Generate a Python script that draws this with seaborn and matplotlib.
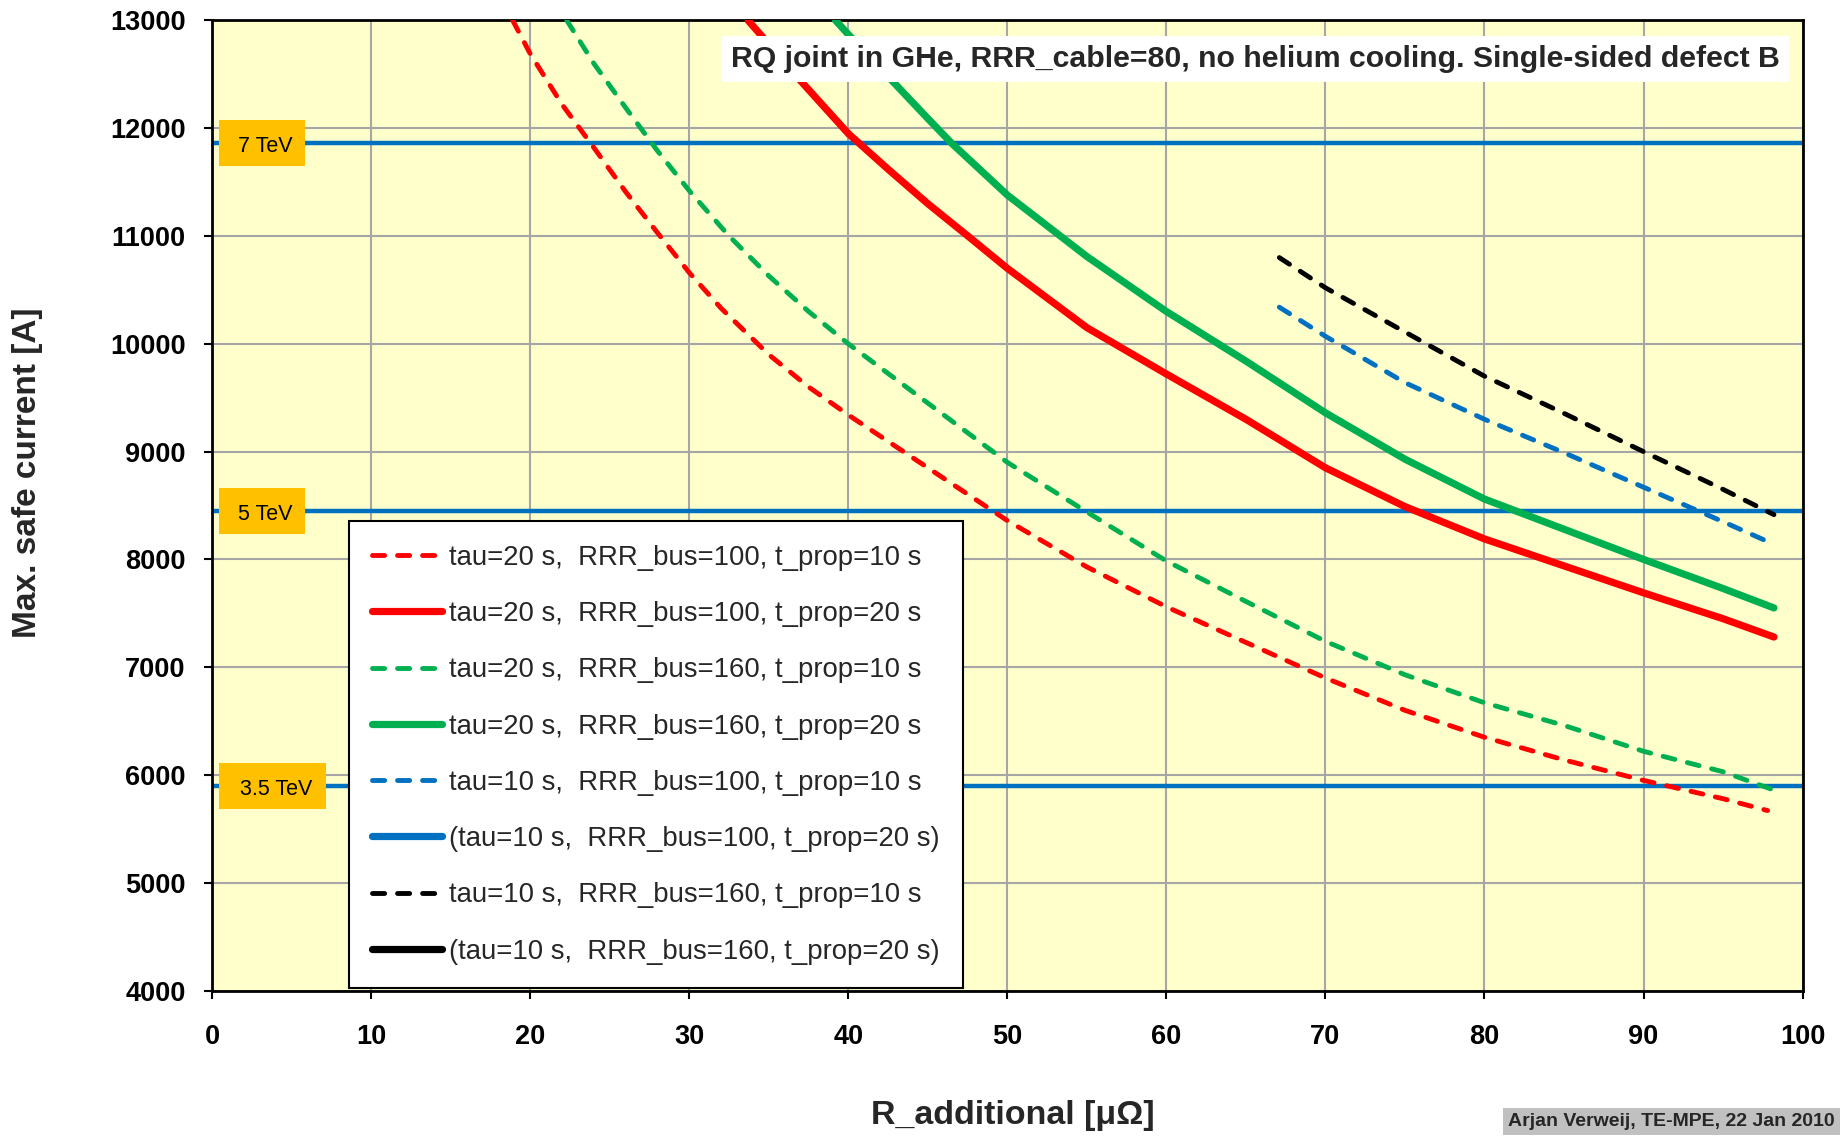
import pandas as pd
import seaborn as sns
import matplotlib.pyplot as plt
from matplotlib import font_manager
from matplotlib.patches import Rectangle
from matplotlib.transforms import blended_transform_factory

# resistance [uOhm] and max safe current [A]
x_r10 = [18.9, 20, 22, 24, 26, 28, 30, 32, 35, 37.5, 40, 45, 50, 55, 60, 65, 70, 75, 80, 85, 90, 95, 97.8]
i_r10 = [13000, 12690, 12220, 11820, 11410, 11030, 10660, 10330, 9900, 9600, 9340, 8850, 8360, 7930, 7560, 7230, 6900, 6600, 6350, 6140, 5950, 5780, 5670]

x_r20 = [33.7, 35, 37, 40, 42.5, 45, 47.6, 50, 55, 60, 65, 70, 75, 80, 85, 90, 95, 98.2]
i_r20 = [13000, 12780, 12440, 11950, 11620, 11300, 10990, 10700, 10150, 9720, 9300, 8850, 8490, 8190, 7940, 7690, 7450, 7280]

x_g10 = [22.3, 24, 26, 28, 30, 32.5, 35, 37.5, 40, 45, 50, 55, 60, 65, 70, 75, 80, 85, 90, 95, 98.2]
i_g10 = [13000, 12600, 12190, 11790, 11420, 11000, 10630, 10300, 10000, 9450, 8900, 8440, 7985, 7610, 7240, 6930, 6670, 6460, 6220, 6030, 5860]

x_g20 = [39.2, 40, 45, 46.5, 50, 55, 60, 65, 70, 75, 80, 85, 90, 95, 98.2]
i_g20 = [13000, 12870, 12090, 11860, 11380, 10810, 10300, 9840, 9360, 8930, 8560, 8280, 8000, 7730, 7550]

x_b10 = [67.1, 70, 75, 80, 85, 90, 95, 98.2]
i_b10 = [10340, 10070, 9640, 9300, 8990, 8670, 8350, 8140]

x_k10 = [67.1, 70, 75, 80, 85, 90, 95, 98.2]
i_k10 = [10800, 10520, 10110, 9700, 9355, 9000, 8650, 8415]

energy_labels = ['7 TeV', '5 TeV', '3.5 TeV']
energy_current = [11860, 8450, 5900]

x_ticks = list(range(0, 101, 10))
y_ticks = list(range(4000, 13001, 1000))

RED = '#FF0000'
GREEN = '#00B050'
BLUE = '#0070C0'
BLACK = '#000000'

series = [
    ('tau=20 s,  RRR_bus=100, t_prop=10 s', x_r10, i_r10, RED, True),
    ('tau=20 s,  RRR_bus=100, t_prop=20 s', x_r20, i_r20, RED, False),
    ('tau=20 s,  RRR_bus=160, t_prop=10 s', x_g10, i_g10, GREEN, True),
    ('tau=20 s,  RRR_bus=160, t_prop=20 s', x_g20, i_g20, GREEN, False),
    ('tau=10 s,  RRR_bus=100, t_prop=10 s', x_b10, i_b10, BLUE, True),
    ('(tau=10 s,  RRR_bus=100, t_prop=20 s)', [], [], BLUE, False),
    ('tau=10 s,  RRR_bus=160, t_prop=10 s', x_k10, i_k10, BLACK, True),
    ('(tau=10 s,  RRR_bus=160, t_prop=20 s)', [], [], BLACK, False),
]

sns.set_theme(style='ticks')
installed = {f.name for f in font_manager.fontManager.ttflist}
narrow = 'Liberation Sans Narrow' in installed
fam = 'Liberation Sans Narrow' if narrow else 'Liberation Sans'
plt.rcParams['font.family'] = [fam, 'DejaVu Sans']
k = 1.15 if narrow else 1.0

fig = plt.figure(figsize=(18.45, 11.36), dpi=100)
ax = fig.add_axes([0.115, 0.128, 0.862, 0.854])
ax.set_facecolor('#FFFFCC')

# energy reference lines
for lab, cur in zip(energy_labels, energy_current):
    ax.axhline(cur, color=BLUE, lw=3.2, zorder=2)

handles = []
for label, xs, ys, col, dashed in series:
    style = dict(color=col, lw=3.5 if dashed else 5.2, solid_capstyle='round',
                 dash_capstyle='round')
    if dashed:
        style['linestyle'] = (0, (2.5, 2.65))
    if len(xs):
        df = pd.DataFrame({'R': xs, 'I': ys})
        sns.lineplot(data=df, x='R', y='I', ax=ax, label=label, zorder=3, **style)
        handles.append(ax.get_lines()[-1])
    else:
        h, = ax.plot([], [], label=label, **style)
        handles.append(h)

# orange labels on the energy lines
trans = blended_transform_factory(ax.transAxes, ax.transData)
for lab, cur in zip(energy_labels, energy_current):
    w = 0.067 if '.' in lab else 0.054
    ax.add_patch(Rectangle((0.0045, cur - 212), w, 424, transform=trans,
                           facecolor='#FFC000', edgecolor='none', zorder=4))
    ax.text(0.0045 + w / 2 + 0.002, cur - 30, lab, transform=trans, ha='center', va='center',
            fontsize=15.5 * k, zorder=5, color='black')

ax.set_xlim(0, 100)
ax.set_ylim(4000, 13000)
ax.set_xticks(x_ticks)
ax.set_yticks(y_ticks)
ax.grid(True, color='#A6A6A6', lw=1.5)
ax.set_axisbelow(True)
for s in ax.spines.values():
    s.set_color('black')
    s.set_linewidth(2)
ax.tick_params(axis='both', direction='out', length=6, width=1.5, colors='black',
               labelsize=19.5 * k)
ax.tick_params(axis='x', pad=18)
ax.tick_params(axis='y', pad=13)
for t in ax.get_xticklabels() + ax.get_yticklabels():
    t.set_fontweight('bold')

ax.set_xlabel('')
ax.set_ylabel('')
fig.text(0.015, 0.584, 'Max. safe current [A]', rotation=90, ha='center', va='center',
         fontsize=24 * k, fontweight='bold')
fig.text(0.549, 0.018, 'R_additional [μΩ]', ha='center', va='center',
         fontsize=24.5 * k, fontweight='bold')

ax.text(0.986, 0.96, 'RQ joint in GHe, RRR_cable=80, no helium cooling. Single-sided defect B',
        transform=ax.transAxes, ha='right', va='center', fontsize=21.8 * k, fontweight='bold',
        zorder=6, bbox=dict(boxstyle='square,pad=0.3', facecolor='white', edgecolor='none'))

leg = ax.legend(handles=handles, loc='upper left', bbox_to_anchor=(0.0858, 0.4836),
                borderaxespad=0, fontsize=19.8 * k, frameon=True, fancybox=False,
                handlelength=2.55, handletextpad=0.25, labelspacing=1.1,
                borderpad=0.85)
leg.get_frame().set_edgecolor('black')
leg.get_frame().set_linewidth(1.5)
leg.get_frame().set_alpha(1)
leg.set_zorder(7)

fig.text(0.8175, 0.0125, 'Arjan Verweij, TE-MPE, 22 Jan 2010', ha='left', va='center',
         fontsize=14.0 * k, fontweight='bold',
         bbox=dict(boxstyle='square,pad=0.25', facecolor='#C0C0C0', edgecolor='none'))

fig.savefig('out.png', dpi=100)
